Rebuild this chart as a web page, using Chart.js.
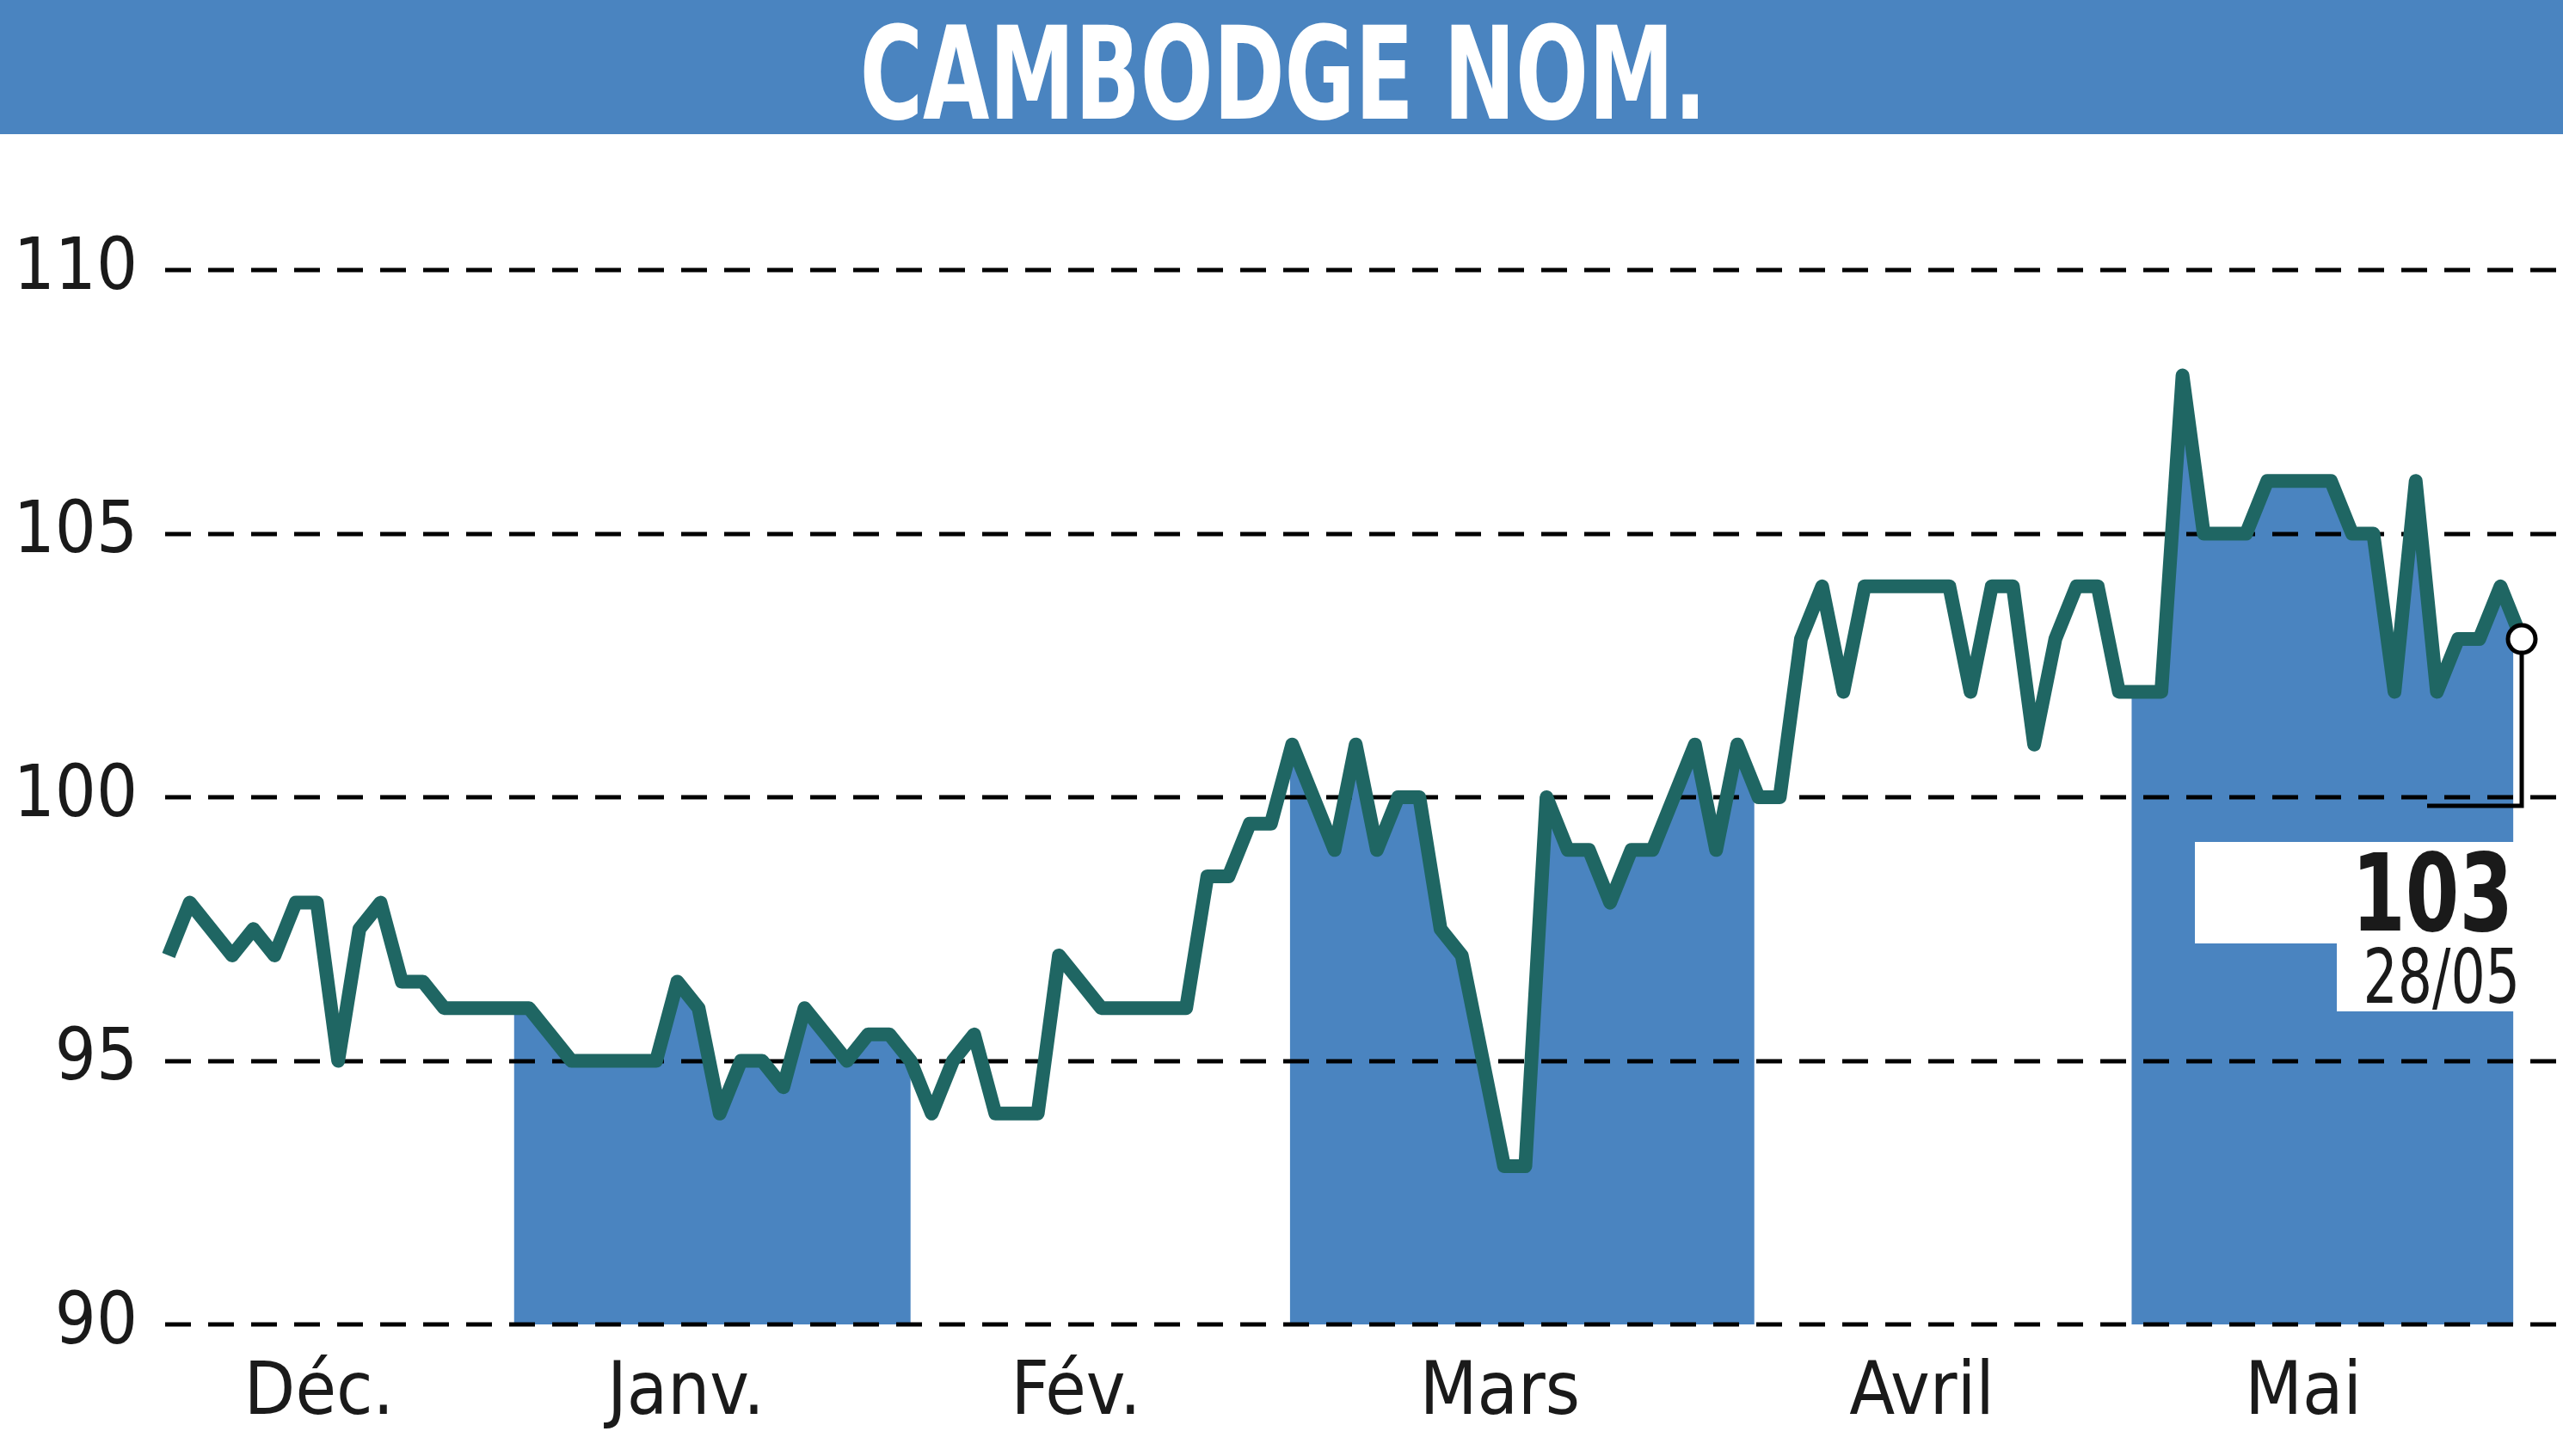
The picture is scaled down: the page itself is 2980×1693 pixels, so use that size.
<!DOCTYPE html>
<html>
<head>
<meta charset="utf-8">
<script src="https://cdn.jsdelivr.net/npm/chart.js@4"></script>
<style>
  body { margin: 0; background: #fff; }
  #wrap { width: 2980px; height: 1693px; position: relative; }
</style>
</head>
<body>
<div id="wrap"><canvas id="chart"></canvas></div>
<script>
// ---------- DATA ----------
const title = "CAMBODGE NOM.";
const prices = [
  97, 98, 97.5, 97, 97.5, 97, 98, 98, 95, 97.5, 98, 96.5, 96.5, 96, 96, 96, 96, 96,
  95.5, 95, 95, 95, 95, 95, 96.5, 96, 94, 95, 95, 94.5, 96, 95.5, 95, 95.5, 95.5, 95,
  94, 95, 95.5, 94, 94, 94, 97, 96.5, 96, 96, 96, 96, 96, 98.5, 98.5, 99.5, 99.5, 101,
  100, 99, 101, 99, 100, 100, 97.5, 97, 95, 93, 93, 100, 99, 99, 98, 99, 99, 100,
  101, 99, 101, 100, 100, 103, 104, 102, 104, 104, 104, 104, 104, 102, 104, 104, 101,
  103, 104, 104, 102, 102, 102, 108, 105, 105, 105, 106, 106, 106, 106, 105, 105, 102,
  106, 102, 103, 103, 104, 103
];
const monthLabels = ["Déc.", "Janv.", "Fév.", "Mars", "Avril", "Mai"];
const monthCenters = [7.1, 24.4, 42.8, 62.8, 82.7, 100.7];
const bandRanges = [[16.3, 35], [52.9, 74.8], [92.6, 110.6]];
const yTicks = [90, 95, 100, 105, 110];
const lastValue = "103";
const lastDate = "28/05";

const BLUE = "#4a84c0";
const LINE = "#1f6663";
const FONT = "'Liberation Sans Narrow', 'DejaVu Sans Condensed', 'Roboto Condensed', sans-serif";

// draw narrow text by squeezing horizontally
function narrowText(ctx, text, x, y, squeeze) {
  ctx.save();
  ctx.translate(x, y);
  ctx.scale(squeeze, 1);
  ctx.fillText(text, 0, 0);
  ctx.restore();
}

// ---------- DRAWING PLUGIN ----------
const decor = {
  id: "decor",
  beforeDraw(chart) {
    const ctx = chart.ctx;
    ctx.save();
    ctx.fillStyle = "#fff";
    ctx.fillRect(0, 0, chart.width, chart.height);
    // title bar
    ctx.fillStyle = BLUE;
    ctx.fillRect(0, 0, chart.width, 156);
    ctx.fillStyle = "#fff";
    ctx.font = "bold 150px " + FONT;
    ctx.textAlign = "center";
    narrowText(ctx, title, 1492, 138, 0.74);
    ctx.restore();
  },
  beforeDatasetsDraw(chart) {
    const ctx = chart.ctx;
    const x = chart.scales.x, y = chart.scales.y;
    const pts = chart.getDatasetMeta(0).data;
    const base = y.getPixelForValue(90);
    // month bands under the curve
    bandRanges.forEach(r => {
      const x0 = x.getPixelForValue(r[0]), x1 = x.getPixelForValue(r[1]);
      ctx.save();
      ctx.beginPath();
      ctx.rect(x0, 0, x1 - x0, base);
      ctx.clip();
      ctx.beginPath();
      ctx.moveTo(pts[0].x, base);
      pts.forEach(p => ctx.lineTo(p.x, p.y));
      const last = pts[pts.length - 1];
      ctx.lineTo(x1 + 10, last.y);
      ctx.lineTo(x1 + 10, base);
      ctx.closePath();
      ctx.fillStyle = BLUE;
      ctx.fill();
      ctx.restore();
    });
    // dashed grid
    ctx.save();
    ctx.strokeStyle = "#000";
    ctx.lineWidth = 5;
    ctx.setLineDash([30, 20]);
    yTicks.forEach(v => {
      const py = Math.round(y.getPixelForValue(v));
      ctx.beginPath();
      ctx.moveTo(192, py);
      ctx.lineTo(chart.width, py);
      ctx.stroke();
    });
    ctx.restore();
    // last value box
    ctx.save();
    const last = pts[pts.length - 1];
    ctx.fillStyle = "#fff";
    ctx.fillRect(2552, 979, 384, 118);
    ctx.fillRect(2717, 1096, 219, 80);
    ctx.strokeStyle = "#000";
    ctx.lineWidth = 5;
    ctx.beginPath();
    ctx.moveTo(last.x, last.y);
    ctx.lineTo(last.x, y.getPixelForValue(100) + 10);
    ctx.lineTo(2822, y.getPixelForValue(100) + 10);
    ctx.stroke();
    ctx.fillStyle = "#1a1a1a";
    ctx.textAlign = "right";
    ctx.font = "bold 125px " + FONT;
    narrowText(ctx, lastValue, 2922, 1082, 0.8);
    ctx.font = "88px " + FONT;
    narrowText(ctx, lastDate, 2930, 1166, 0.8);
    ctx.restore();
  },
  afterDatasetsDraw(chart) {
    const ctx = chart.ctx;
    const pts = chart.getDatasetMeta(0).data;
    const last = pts[pts.length - 1];
    ctx.save();
    ctx.beginPath();
    ctx.arc(last.x, last.y, 16, 0, Math.PI * 2);
    ctx.fillStyle = "#fff";
    ctx.fill();
    ctx.lineWidth = 5;
    ctx.strokeStyle = "#000";
    ctx.stroke();
    ctx.restore();
  }
};

// ---------- CHART ----------
new Chart(document.getElementById("chart"), {
  type: "line",
  data: {
    datasets: [{
      data: prices.map((v, i) => ({ x: i, y: v })),
      borderColor: LINE,
      borderWidth: 16,
      borderJoinStyle: "round",
      pointRadius: 0,
      tension: 0,
      fill: false,
      clip: false
    }]
  },
  options: {
    responsive: true,
    maintainAspectRatio: false,
    animation: false,
    devicePixelRatio: 1,
    layout: { padding: { top: 314, right: 48, left: 0, bottom: 0 } },
    plugins: { legend: { display: false }, tooltip: { enabled: false } },
    scales: {
      x: {
        type: "linear",
        min: 0,
        max: prices.length - 1,
        grid: { display: false },
        border: { display: false },
        afterBuildTicks: s => { s.ticks = monthCenters.map(v => ({ value: v })); },
        afterFit: s => { s.height = 153; },
        ticks: {
          autoSkip: false,
          maxRotation: 0,
          padding: 22,
          color: "#1a1a1a",
          font: { family: FONT, size: 86 },
          callback: (v, i) => monthLabels[i]
        }
      },
      y: {
        min: 90,
        max: 110,
        grid: { display: false },
        border: { display: false },
        afterBuildTicks: s => { s.ticks = yTicks.map(v => ({ value: v })); },
        afterFit: s => { s.width = 196; },
        ticks: {
          padding: 28,
          color: "#1a1a1a",
          font: { family: FONT, size: 84 }
        }
      }
    }
  },
  plugins: [decor]
});
</script>
</body>
</html>
